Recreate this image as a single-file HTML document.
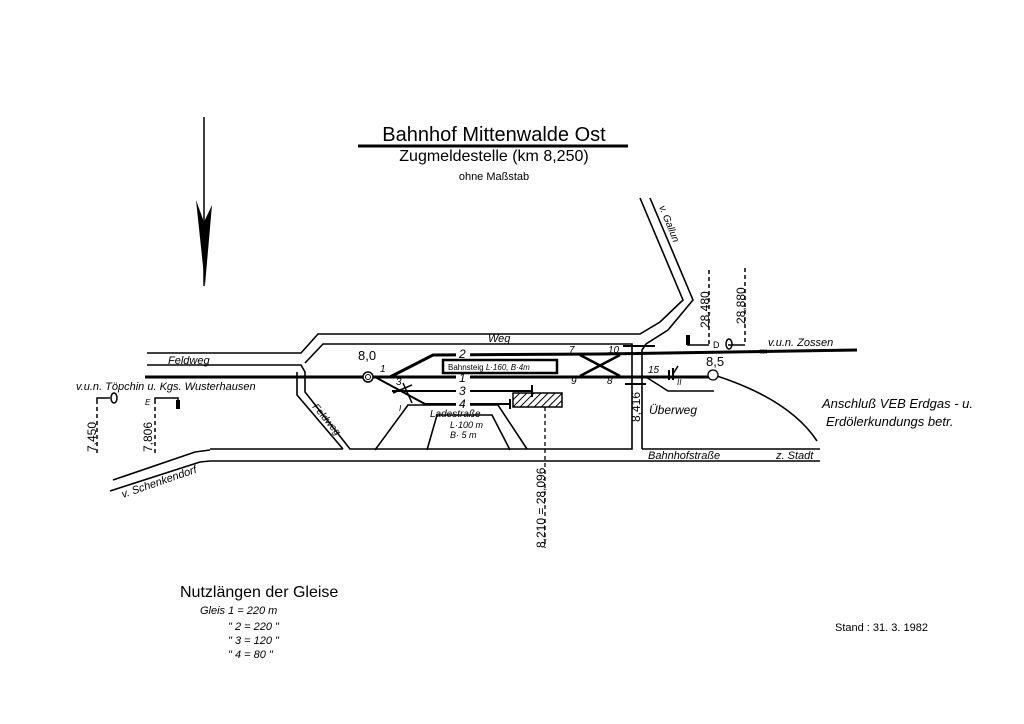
<!DOCTYPE html>
<html><head><meta charset="utf-8"><style>
html,body{margin:0;padding:0;background:#fff;}
svg{display:block;font-family:"Liberation Sans",sans-serif;}
.i{font-style:italic;}
</style></head><body>
<svg width="1024" height="724" viewBox="0 0 1024 724" xmlns="http://www.w3.org/2000/svg">
<rect width="1024" height="724" fill="#fff"/>
<line x1="204" y1="117" x2="204" y2="286" stroke="#000" stroke-width="1.5"/>
<path d="M196 200 L204 222 L212 205 L205 285 Z" fill="#000"/>
<text x="494" y="141" font-size="20" text-anchor="middle">Bahnhof Mittenwalde Ost</text>
<line x1="358" y1="146" x2="628" y2="146" stroke="#000" stroke-width="3"/>
<text x="494" y="161" font-size="16" text-anchor="middle">Zugmeldestelle (km 8,250)</text>
<text x="494" y="180" font-size="11" text-anchor="middle">ohne Maßstab</text>

<g fill="none" stroke="#000" stroke-width="1.6">
<polyline points="640,198 683,300 660,322 640,334 318,334 301,353 147,353"/>
<polyline points="650,198 693,300 668,330 646,344 642,350 642,449"/>
<polyline points="147,365 301,365 305,372 305,392 350,449 632,449 632,344 323,344 305,363"/>
<polyline points="297,372 297,395 343,449"/>
<line x1="210" y1="449" x2="343" y2="449"/>
<polyline points="110,491 200,462 210,461 820,461"/>
<polyline points="113,480 195,452 210,450"/>
<line x1="642" y1="449" x2="820" y2="449"/>
<polyline points="375,450 408,405 498,405 527,449"/>
<polyline points="427,450 437,415 492,415 510,450"/>
<path d="M717,376 Q790,400 817,441"/>
</g>

<g stroke="#000" fill="none">
<line x1="145" y1="377" x2="713" y2="377" stroke-width="3"/>
<polyline points="390,377 433,355 600,354 857,350" stroke-width="3"/>
<polyline points="375,377 425,404 510,404" stroke-width="2"/>
<line x1="392" y1="391" x2="532" y2="391" stroke-width="2"/>
<line x1="532" y1="385" x2="532" y2="397" stroke-width="2"/>
<line x1="510" y1="399" x2="510" y2="409" stroke-width="2"/>
<line x1="580" y1="355" x2="620" y2="376" stroke-width="2.5"/>
<line x1="580" y1="376" x2="620" y2="355" stroke-width="2.5"/>
<polyline points="646,377 668,391 714,391" stroke-width="1.5"/>
<line x1="623" y1="346" x2="655" y2="346" stroke-width="2"/>
<line x1="625" y1="384" x2="646" y2="384" stroke-width="2"/>
<line x1="403" y1="383" x2="412" y2="403" stroke-width="1.5"/>
<line x1="393" y1="393" x2="412" y2="385" stroke-width="1.5"/>
<line x1="669" y1="370" x2="669" y2="380" stroke-width="2"/>
<line x1="673" y1="368" x2="673" y2="380" stroke-width="2"/>
<line x1="673" y1="374" x2="678" y2="366" stroke-width="1.5"/>
</g>
<g fill="#fff"><rect x="456" y="349" width="14" height="10"/><rect x="456" y="372" width="14" height="10"/><rect x="456" y="386" width="14" height="10"/><rect x="456" y="399" width="14" height="10"/></g>
<circle cx="368" cy="377" r="5" fill="#fff" stroke="#000" stroke-width="1.5"/>
<circle cx="368" cy="377" r="2.5" fill="#fff" stroke="#000" stroke-width="1"/>
<circle cx="713" cy="375" r="5" fill="#fff" stroke="#000" stroke-width="1.3"/>
<rect x="443" y="360" width="114" height="13" fill="#fff" stroke="#000" stroke-width="2.5"/>
<text x="448" y="370" font-size="8">Bahnsteig <tspan class="i">L·160, B·4m</tspan></text>
<defs><pattern id="h" width="5" height="5" patternUnits="userSpaceOnUse" patternTransform="rotate(45)"><line x1="0" y1="0" x2="0" y2="5" stroke="#000" stroke-width="2"/></pattern></defs>
<rect x="513" y="393" width="49" height="14" fill="url(#h)" stroke="#000" stroke-width="1.5"/>
<line x1="545" y1="407" x2="545" y2="548" stroke="#000" stroke-width="1.3" stroke-dasharray="4,3"/>
<text transform="translate(545,548) rotate(-90)" font-size="12">8,210 = 28,096</text>
<g font-size="10" class="i">
<text x="380" y="372">1</text><text x="396" y="385">3</text><text x="459" y="358" font-size="12">2</text>
<text x="459" y="395" font-size="12">3</text><text x="459" y="408" font-size="12">4</text>
<text x="459" y="382" font-size="12">1</text>
<text x="569" y="353">7</text><text x="608" y="353">10</text><text x="571" y="384">9</text><text x="607" y="384">8</text>
<text x="648" y="373">15</text><text x="677" y="385" font-size="8">II</text><text x="399" y="411" font-size="8">I</text>
</g>
<text x="358" y="360" font-size="13">8,0</text>
<text x="706" y="366" font-size="13">8,5</text>
<text x="488" y="342" font-size="11" class="i">Weg</text>
<text x="168" y="364" font-size="11" class="i">Feldweg</text>
<text transform="translate(312,407) rotate(50)" font-size="10" class="i">Feldweg</text>
<text transform="translate(123,498) rotate(-19)" font-size="11" class="i">v. Schenkendorf</text>
<text transform="translate(659,207) rotate(68)" font-size="10" class="i">v. Gallun</text>
<text x="430" y="417" font-size="10" class="i">Ladestraße</text>
<text x="450" y="428" font-size="9" class="i">L·100 m</text>
<text x="450" y="438" font-size="9" class="i">B·  5 m</text>
<text x="649" y="414" font-size="12" class="i">Überweg</text>
<text x="648" y="459" font-size="11" class="i">Bahnhofstraße</text>
<text x="776" y="459" font-size="11" class="i">z. Stadt</text>
<text transform="translate(640,422) rotate(-90)" font-size="12">8,416</text>
<text x="76" y="390" font-size="11" class="i">v.u.n. Töpchin u. Kgs. Wusterhausen</text>
<text x="768" y="346" font-size="11" class="i">v.u.n. Zossen</text>
<text x="822" y="408" font-size="13" class="i">Anschluß VEB Erdgas - u.</text>
<text x="826" y="426" font-size="13" class="i">Erdölerkundungs betr.</text>
<g stroke="#000" fill="none" stroke-width="1.5">
<polyline points="97,400 97,398 110,398"/><line x1="97" y1="400" x2="97" y2="455" stroke-dasharray="4,3"/>
<polyline points="155,400 155,398 178,398 178,408" /><line x1="155" y1="400" x2="155" y2="455" stroke-dasharray="4,3"/>
<ellipse cx="114" cy="398" rx="3" ry="5"/>
<line x1="709" y1="270" x2="709" y2="345" stroke-dasharray="4,3"/>
<line x1="745" y1="268" x2="745" y2="345" stroke-dasharray="4,3"/>
<polyline points="688,336 688,345 709,345"/>
<line x1="728" y1="345" x2="745" y2="345"/>
<ellipse cx="729" cy="344" rx="3" ry="5"/>
</g>
<rect x="176" y="400" width="4" height="9" fill="#000"/>
<rect x="686" y="335" width="4" height="10" fill="#000"/>
<text x="145" y="405" font-size="8" class="i">E</text>
<text x="713" y="348" font-size="9">D</text>
<text transform="translate(96,452) rotate(-90)" font-size="12">7,450</text>
<text transform="translate(152,452) rotate(-90)" font-size="12">7,806</text>
<text transform="translate(709,328) rotate(-90)" font-size="12">28,480</text>
<text transform="translate(745,324) rotate(-90)" font-size="12">28,880</text>
<text x="758" y="354" font-size="10" letter-spacing="-2">‹‹‹ ›››</text>
<text x="180" y="597" font-size="16">Nutzlängen der Gleise</text>
<g font-size="11" class="i">
<text x="200" y="614">Gleis 1 = 220 m</text>
<text x="228" y="630">"   2 = 220 "</text>
<text x="228" y="644">"   3 = 120 "</text>
<text x="228" y="658">"   4 =  80 "</text>
</g>
<text x="835" y="631" font-size="11">Stand : 31. 3. 1982</text>
</svg>
</body></html>
